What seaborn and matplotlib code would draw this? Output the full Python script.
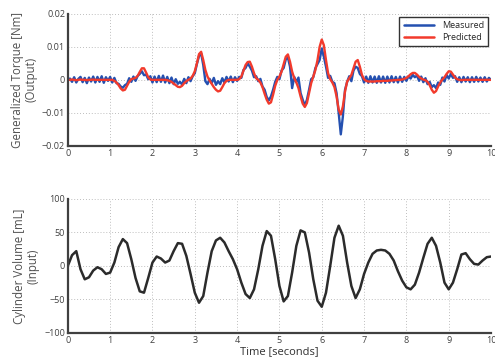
import numpy as np
import pandas as pd
import matplotlib
matplotlib.use("Agg")
import matplotlib.pyplot as plt
import seaborn as sns

# torque, sampled every 0.05 s (one row = one second)
torque_predicted = [
    0, 0, 0.0001, 0, -0.0001, 0, 0.0001, 0, 0, -0.0001, 0, 0, 0.0001, 0, 0, 0, 0, 0, 0, 0,
    0, 0, -0.0003, -0.0008, -0.0016, -0.0026, -0.0032, -0.0030, -0.0018, -0.0006, 0.0002, 0.0004, 0.0006, 0.0012, 0.0024, 0.0035, 0.0035, 0.0022, 0.0008, 0.0001,
    0, 0, 0, 0, 0, 0, 0, -0.0001, -0.0003, -0.0006, -0.0011, -0.0016, -0.0021, -0.0022, -0.0018, -0.0010, -0.0004, 0, 0.0004, 0.0012,
    0.0026, 0.0050, 0.0078, 0.0085, 0.0060, 0.0030, 0.0010, -0.0002, -0.0012, -0.0022, -0.0030, -0.0035, -0.0033, -0.0022, -0.0010, -0.0003, 0, 0, 0, 0,
    0, 0.0002, 0.0010, 0.0028, 0.0045, 0.0054, 0.0055, 0.0040, 0.0020, 0.0005, 0, -0.0008, -0.0022, -0.0042, -0.0060, -0.0072, -0.0068, -0.0045, -0.0018, 0,
    0.0010, 0.0025, 0.0048, 0.0070, 0.0077, 0.0055, 0.0025, 0.0005, -0.0008, -0.0025, -0.0050, -0.0072, -0.0082, -0.0070, -0.0040, -0.0010, 0.0010, 0.0030, 0.0060, 0.0100,
    0.0122, 0.0105, 0.0060, 0.0020, 0.0002, -0.0008, -0.0022, -0.0050, -0.0090, -0.0105, -0.0080, -0.0035, -0.0005, 0.0005, 0.0015, 0.0035, 0.0055, 0.0060, 0.0040, 0.0015,
    0.0002, -0.0003, -0.0005, -0.0005, -0.0005, -0.0005, -0.0004, -0.0004, -0.0004, -0.0003, -0.0003, -0.0003, -0.0002, -0.0002, -0.0001, -0.0001, 0, 0, 0.0001, 0.0003,
    0.0006, 0.0011, 0.0017, 0.0021, 0.0021, 0.0016, 0.0009, 0.0004, 0.0001, -0.0001, -0.0006, -0.0016, -0.0030, -0.0039, -0.0034, -0.0020, -0.0008, 0.0001, 0.0008, 0.0018,
    0.0026, 0.0025, 0.0016, 0.0007, 0.0002, 0, -0.0001, 0, 0, 0, 0, 0, 0, 0, 0, 0, 0, 0, 0, 0,
    0,
]

torque_measured = [
    0, 0.0004, -0.0006, 0.0008, -0.0008, 0.0003, 0.0009, -0.0007, 0.0006, -0.0010, 0.0007, -0.0005, 0.0010, -0.0008, 0.0009, -0.0006, 0.0011, -0.0009, 0.0008, -0.0003,
    0.0009, -0.0008, 0.0006, -0.0010, -0.0012, -0.0020, -0.0024, -0.0016, -0.0012, 0.0005, -0.0006, 0.0010, -0.0003, 0.0012, 0.0018, 0.0026, 0.0014, 0.0016, 0.0002, 0.0011,
    -0.0008, 0.0010, -0.0007, 0.0012, -0.0006, 0.0013, -0.0008, 0.0009, -0.0010, 0.0007, -0.0013, 0.0002, -0.0012, -0.0006, -0.0014, 0.0003, -0.0010, 0.0008, -0.0004, 0.0011,
    0.0020, 0.0048, 0.0072, 0.0080, 0.0045, -0.0004, -0.0013, 0.0003, -0.0010, 0.0006, -0.0015, -0.0004, -0.0013, 0.0005, -0.0008, 0.0009, -0.0005, 0.0010, -0.0007, 0.0008,
    -0.0003, 0.0009, 0.0006, 0.0030, 0.0036, 0.0050, 0.0040, 0.0028, 0.0008, 0.0011, -0.0004, 0.0003, -0.0020, -0.0030, -0.0052, -0.0062, -0.0050, -0.0030, -0.0006, 0.0009,
    0.0002, 0.0028, 0.0036, 0.0062, 0.0068, 0.0040, -0.0025, 0.0009, -0.0007, 0.0007, -0.0040, -0.0060, -0.0078, -0.0060, -0.0030, 0.0002, 0.0008, 0.0036, 0.0048, 0.0060,
    0.0095, 0.0070, 0.0040, 0.0006, 0.0012, -0.0006, -0.0010, -0.0040, -0.0100, -0.0165, -0.0110, -0.0030, -0.0006, 0.0011, -0.0004, 0.0028, 0.0040, 0.0036, 0.0018, 0.0011,
    -0.0008, 0.0010, -0.0009, 0.0011, -0.0008, 0.0010, -0.0009, 0.0011, -0.0008, 0.0010, -0.0009, 0.0010, -0.0008, 0.0011, -0.0007, 0.0009, -0.0008, 0.0010, -0.0006, 0.0009,
    -0.0003, 0.0011, 0.0004, 0.0015, 0.0008, 0.0013, -0.0003, 0.0010, -0.0007, 0.0005, -0.0013, -0.0006, -0.0022, -0.0016, -0.0025, -0.0008, -0.0015, 0.0007, -0.0005, 0.0015,
    0.0004, 0.0018, 0.0006, 0.0011, -0.0006, 0.0008, -0.0007, 0.0009, -0.0005, 0.0008, -0.0007, 0.0008, -0.0006, 0.0009, -0.0005, 0.0007, -0.0006, 0.0008, -0.0005, 0.0006,
    0,
]

# cylinder volume, sampled every 0.1 s
volume = [
    0, 16, 22, -5, -20, -17, -7, -2, -5, -12,
    -10, 5, 28, 40, 34, 10, -18, -38, -40, -18,
    5, 14, 11, 5, 8, 22, 34, 33, 15, -12,
    -40, -55, -45, -10, 22, 38, 42, 35, 22, 10,
    -5, -25, -42, -48, -35, -5, 30, 52, 45, 10,
    -30, -53, -45, -10, 30, 53, 50, 20, -20, -52,
    -61, -40, 0, 42, 60, 45, 5, -30, -48, -35,
    -12, 5, 18, 23, 24, 23, 18, 8, -8, -22,
    -32, -35, -28, -10, 12, 33, 42, 30, 5, -25,
    -35, -25, -5, 17, 19, 10, 3, 2, 8, 13,
    14,
]

t_torque = np.linspace(0, 10, len(torque_measured))
t_volume = np.linspace(0, 10, len(volume))

df_torque = pd.DataFrame({
    "time": np.concatenate([t_torque, t_torque]),
    "torque": torque_measured + torque_predicted,
    "series": ["Measured"] * len(t_torque) + ["Predicted"] * len(t_torque),
})
df_volume = pd.DataFrame({"time": t_volume, "volume": volume})

sns.set_style("white")
plt.rcParams["font.family"] = ["Open Sans", "DejaVu Sans"]

fig = plt.figure(figsize=(4.95, 3.63), dpi=100)
ax1 = fig.add_axes([0.137, 0.598, 0.855, 0.364])
ax2 = fig.add_axes([0.137, 0.083, 0.855, 0.369])

blue = "#2450b0"
red = "#f23a2c"
grey = "#404040"

sns.lineplot(data=df_torque, x="time", y="torque", hue="series",
             palette={"Measured": blue, "Predicted": red}, linewidth=1.7, ax=ax1)
sns.lineplot(data=df_volume, x="time", y="volume", color="#2b2b2b", linewidth=1.8, ax=ax2)

ax1.set_ylim(-0.02, 0.02)
ax1.set_yticks([-0.02, -0.01, 0, 0.01, 0.02])
ax1.set_yticklabels(["\u22120.02", "\u22120.01", "0", "0.01", "0.02"])
ax2.set_ylim(-100, 100)
ax2.set_yticks([-100, -50, 0, 50, 100])
ax2.set_yticklabels(["\u2212100", "\u221250", "0", "50", "100"])

for ax in (ax1, ax2):
    ax.set_xlim(0, 10)
    ax.set_xticks(range(0, 11))
    ax.grid(True, linestyle=(0, (1, 2.5)), color="#a8a8a8", linewidth=0.6)
    ax.tick_params(direction="in", length=3, width=1.2, colors=grey, labelsize=6.5, pad=2)
    for s in ("top", "right"):
        ax.spines[s].set_visible(False)
    for s in ("left", "bottom"):
        ax.spines[s].set_color(grey)
        ax.spines[s].set_linewidth(1.6)
    for lab in ax.get_xticklabels() + ax.get_yticklabels():
        lab.set_color(grey)

ax1.set_xlabel("")
ax1.set_ylabel("Generalized Torque [Nm]\n(Output)", fontsize=8.3, color="#505050", labelpad=3, linespacing=1.1)
ax2.set_xlabel("Time [seconds]", fontsize=8, color="#303030", labelpad=1)
ax2.set_ylabel("Cylinder Volume [mL]\n(Input)", fontsize=8.3, color="#505050", labelpad=3, linespacing=1.1)

leg = ax1.legend(loc="upper right", fontsize=6.5, frameon=True, fancybox=False,
                 handlelength=3.4, borderpad=0.5, labelspacing=0.3, handletextpad=0.8,
                 borderaxespad=0.3)
leg.get_frame().set_edgecolor("black")
leg.get_frame().set_linewidth(1.0)
for line in leg.get_lines():
    line.set_linewidth(1.8)

fig.savefig("out.png", dpi=100)
